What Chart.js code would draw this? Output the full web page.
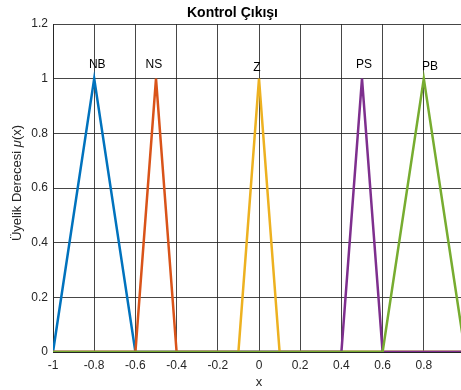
<!DOCTYPE html>
<html>
<head>
<meta charset="utf-8">
<script src="https://cdn.jsdelivr.net/npm/chart.js@4/dist/chart.umd.min.js"></script>
<style>
    html, body { margin: 0; padding: 0; background: #fff; overflow: hidden; }
    #wrap { width: 480px; height: 390px; }
</style>
</head>
<body>
<div id="wrap"><canvas id="myChart" width="480" height="390"></canvas></div>
<script>
// membership functions of the output (triangles, zero elsewhere)
const names = ['NB', 'NS', 'Z', 'PS', 'PB'];
const colours = ['#0072BD', '#D95319', '#EDB120', '#7E2F8E', '#77AC30'];

const xNB = [-1, -0.8, -0.6, 1];
const yNB = [0, 1, 0, 0];
const xNS = [-1, -0.6, -0.5, -0.4, 1];
const yNS = [0, 0, 1, 0, 0];
const xZ = [-1, -0.1, 0, 0.1, 1];
const yZ = [0, 0, 1, 0, 0];
const xPS = [-1, 0.4, 0.5, 0.6, 1];
const yPS = [0, 0, 1, 0, 0];
const xPB = [-1, 0.6, 0.8, 1];
const yPB = [0, 0, 1, 0];

// label positions above the peaks
const labelX = [-0.785, -0.51, -0.01, 0.51, 0.83];
const labelY = [1.05, 1.05, 1.04, 1.05, 1.043];

const xs = [xNB, xNS, xZ, xPS, xPB];
const ys = [yNB, yNS, yZ, yPS, yPB];

const GRID = 'rgba(38,38,38,0.85)';
const FONT = 'Arial, "Liberation Sans", sans-serif';

var datasets = names.map((n, i) => {
    return {
        label: n,
        data: xs[i].map((x, j) => { return { x: x, y: ys[i][j] } }),
        borderColor: colours[i],
        backgroundColor: colours[i],
        borderWidth: 2.5,
        pointRadius: 0,
        fill: false,
        tension: 0,
        order: names.length - i
    };
});

const peakLabels = {
    id: 'peakLabels',
    afterDatasetsDraw(chart) {
        var ctx = chart.ctx, sx = chart.scales.x, sy = chart.scales.y;
        ctx.save();
        ctx.font = '12px ' + FONT;
        ctx.fillStyle = '#000';
        ctx.textAlign = 'center';
        ctx.textBaseline = 'middle';
        names.forEach((n, i) => {
            ctx.fillText(n, sx.getPixelForValue(labelX[i]), sy.getPixelForValue(labelY[i]));
        });
        ctx.restore();
    }
};

// y axis title with italic mu
const yTitle = {
    id: 'yTitle',
    afterDraw(chart) {
        var ctx = chart.ctx;
        var parts = [['Üyelik Derecesi ', ''], ['μ', 'italic '], ['(x)', '']];
        ctx.save();
        ctx.fillStyle = '#262626';
        ctx.textBaseline = 'middle';
        ctx.textAlign = 'left';
        var total = 0;
        parts.forEach((p) => { ctx.font = p[1] + '13px ' + FONT; total += ctx.measureText(p[0]).width; });
        ctx.translate(17, 183);
        ctx.rotate(-Math.PI / 2);
        var x = -total / 2;
        parts.forEach((p) => {
            ctx.font = p[1] + '13px ' + FONT;
            ctx.fillText(p[0], x, 0);
            x += ctx.measureText(p[0]).width;
        });
        ctx.restore();
    }
};

var ctx = document.getElementById('myChart');
var myChart = new Chart(ctx, {
    type: 'line',
    data: { datasets: datasets },
    plugins: [peakLabels, yTitle],
    options: {
        responsive: false,
        animation: false,
        layout: { padding: { left: 0, right: 15, top: 0, bottom: 0 } },
        plugins: {
            legend: { display: false },
            tooltip: { enabled: false },
            title: {
                display: true,
                text: 'Kontrol Çıkışı',
                color: '#000',
                font: { family: FONT, size: 14, weight: 'bold' },
                padding: { top: 4.6, bottom: 2.6 }
            }
        },
        scales: {
            x: {
                type: 'linear',
                min: -1,
                max: 1,
                afterFit: (s) => { s.height = 38; },
                ticks: {
                    stepSize: 0.2,
                    color: '#262626',
                    padding: 6,
                    font: { family: FONT, size: 12 },
                    callback: (v) => Math.round(v * 10) / 10
                },
                grid: { color: GRID, drawTicks: false },
                border: { color: '#262626' },
                title: {
                    display: true,
                    text: 'x',
                    color: '#262626',
                    font: { family: FONT, size: 13 },
                    padding: { top: 0, bottom: 0 }
                }
            },
            y: {
                min: 0,
                max: 1.2,
                afterFit: (s) => { s.width = 53; },
                ticks: {
                    stepSize: 0.2,
                    color: '#262626',
                    padding: 5,
                    font: { family: FONT, size: 12 },
                    callback: (v) => Math.round(v * 10) / 10
                },
                grid: { color: GRID, drawTicks: false },
                border: { color: '#262626' }
            }
        }
    }
});
</script>
</body>
</html>
